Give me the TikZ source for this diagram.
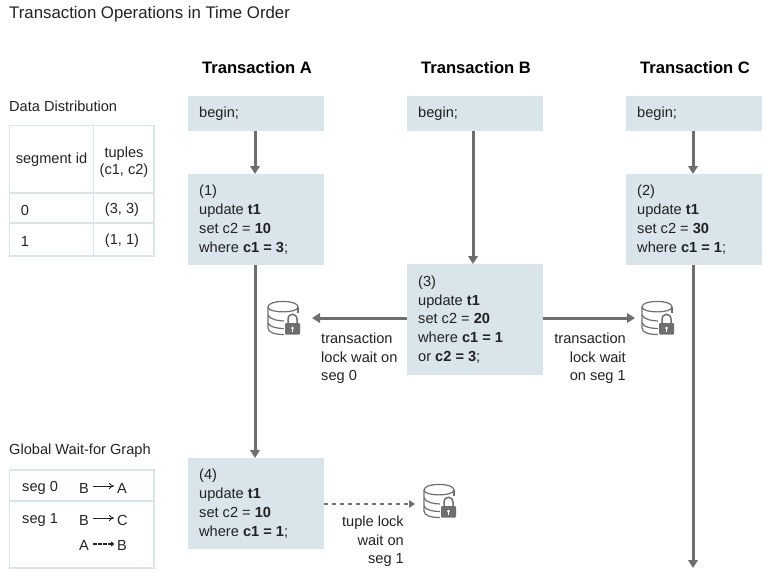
\documentclass[tikz,border=0pt]{standalone}
\usepackage{fontspec}
\setmainfont{Liberation Sans}
\usetikzlibrary{arrows.meta}
\definecolor{boxblue}{HTML}{D9E4EB}
\definecolor{tblline}{HTML}{D9E4EB}
\definecolor{flow}{HTML}{6E6E6E}
\definecolor{ink}{HTML}{222222}
\tikzset{
  x=1pt,y=-1pt,
  txt/.style={font=\fontsize{14.6}{18.8}\selectfont,text=ink,inner sep=0pt},
  lbl/.style={txt,anchor=west,align=left},
  head/.style={txt,font=\fontsize{16.6}{19}\selectfont\bfseries,text=black},
  flowarrow/.style={draw=flow,line width=3pt,-{Triangle[length=8pt,width=9.5pt]}},
  tbl/.style={draw=tblline,line width=1.6pt},
  miniarrow/.style={draw=ink,line width=0.8pt,-{To[length=5pt,width=6pt]}},
  pics/dblock/.style={code={
    \begin{scope}[line width=1.2pt,draw=flow]
      \draw (-16,-11) .. controls (-16,-18.5) and (14,-18.5) .. (14,-11)
            .. controls (14,-4.5) and (-16,-4.5) .. (-16,-11);
      \draw (-16,-11) -- (-16,10) .. controls (-16,15) and (-8,16.5) .. (0,16.5);
      \draw (14,-11) -- (14,-3);
      \draw (-16,-3) .. controls (-14,2) and (-4,3) .. (1,3);
      \draw (-16,5) .. controls (-14,9.5) and (-6,10.5) .. (0,10.5);
    \end{scope}
    \fill[white] (0,-5) rectangle (18,18);
    \draw[flow,line width=1.5pt] (4,6) -- (4,1.5) .. controls (4,-5.5) and (13,-5.5) .. (13,1.5) -- (13,6);
    \fill[flow,rounded corners=1pt] (1,5) rectangle (16,16.5);
    \fill[white] (8.5,10) circle (1.5);
    \fill[white] (7.9,10) rectangle (9.1,13.5);
  }}
}
\begin{document}
\begin{tikzpicture}
\useasboundingbox (0,0) rectangle (767,571);
\node[txt,font=\fontsize{16.8}{20}\selectfont,anchor=west] (title) at (9,14) {Transaction Operations in Time Order};
\node[head] (ha) at (257,68) {Transaction A};
\node[head] (hb) at (476,68) {Transaction B};
\node[head] (hc) at (695,68) {Transaction C};

% boxes
\path[fill=boxblue] (188,96) rectangle (324,131);
\path[fill=boxblue] (407,96) rectangle (543,131);
\path[fill=boxblue] (626,96) rectangle (762,131);
\path[fill=boxblue] (188,174) rectangle (324,265);
\path[fill=boxblue] (626,174) rectangle (762,265);
\path[fill=boxblue] (407,264) rectangle (543,375);
\path[fill=boxblue] (188,458) rectangle (324,549);
\node[lbl] (ta) at (199,114) {begin;};
\node[lbl] (tb) at (418,114) {begin;};
\node[lbl] (tc) at (637,114) {begin;};
\node[lbl] (o1) at (199,219.5) {(1)\\update \textbf{t1}\\set c2 = \textbf{10}\\where \textbf{c1 = 3};};
\node[lbl] (o2) at (637,219.5) {(2)\\update \textbf{t1}\\set c2 = \textbf{30}\\where \textbf{c1 = 1};};
\node[lbl] (o3) at (418,319.5) {(3)\\update \textbf{t1}\\set c2 = \textbf{20}\\where \textbf{c1 = 1}\\or \textbf{c2 = 3};};
\node[lbl] (o4) at (199,503.5) {(4)\\update \textbf{t1}\\set c2 = \textbf{10}\\where \textbf{c1 = 1};};

% anchors of connectors
\coordinate (a0) at (255,131); \coordinate (a1) at (255,174);
\coordinate (a2) at (255,265); \coordinate (a3) at (255,458);
\coordinate (b0) at (473,131); \coordinate (b1) at (473,264);
\coordinate (c0) at (693,131); \coordinate (c1) at (693,174);
\coordinate (c2) at (693,265); \coordinate (c3) at (693,568);
\coordinate (l0) at (407,318); \coordinate (l1) at (312,318);
\coordinate (r0) at (543,318); \coordinate (r1) at (635,318);
\coordinate (d0) at (324,504); \coordinate (d1) at (415,504);
\draw[flowarrow] (a0) -- (a1);
\draw[flowarrow] (a2) -- (a3);
\draw[flowarrow] (b0) -- (b1);
\draw[flowarrow] (c0) -- (c1);
\draw[flowarrow] (c2) -- (c3);
\draw[flowarrow] (l0) -- (l1);
\draw[flowarrow] (r0) -- (r1);
\draw[draw=flow,line width=1.6pt,dash pattern=on 4pt off 4pt,-{Triangle[length=6pt,width=7.5pt]}] (d0) -- (d1);

% lock labels
\node[lbl,anchor=north west] (w0) at (321,332.5) {transaction\\lock wait on\\seg 0};
\node[txt,anchor=north east,align=right] (w1) at (626,332.5) {transaction\\lock wait\\on seg 1};
\node[txt,anchor=north east,align=right] (w2) at (404,515.5) {tuple lock\\wait on\\seg 1};

\pic at (284,318) {dblock};
\pic at (658,318) {dblock};
\pic at (440,501) {dblock};

% data distribution
\node[lbl] (dd) at (9,106.5) {Data Distribution};
\draw[tbl] (9.5,125.5) rectangle (154,256);
\draw[tbl] (93.5,125.5) -- (93.5,256);
\draw[tbl] (9.5,193) -- (154,193);
\draw[tbl] (9.5,223) -- (154,223);
\node[txt] (h1) at (51.5,160) {segment id};
\node[txt,align=center,font=\fontsize{14.6}{17.5}\selectfont] (h2) at (124,162) {tuples\\(c1, c2)};
\node[txt] (r00) at (25,210) {0};
\node[txt] (r01) at (122,210) {(3, 3)};
\node[txt] (r10) at (25,241) {1};
\node[txt] (r11) at (122,241) {(1, 1)};

% wait-for graph
\node[lbl] (gw) at (9,451) {Global Wait-for Graph};
\draw[tbl] (9.5,470) rectangle (154,568);
\draw[tbl] (9.5,501) -- (154,501);
\node[txt,anchor=west] (s0) at (22,488) {seg 0};
\node[txt,anchor=west] (s1) at (22,520) {seg 1};
\node[txt,anchor=west] (g1) at (79,488) {B};
\node[txt,anchor=west] (g2) at (117,488) {A};
\node[txt,anchor=west] (g3) at (79,520) {B};
\node[txt,anchor=west] (g4) at (117,520) {C};
\node[txt,anchor=west] (g5) at (79,545) {A};
\node[txt,anchor=west] (g6) at (117,545) {B};
\draw[miniarrow] (93,486) -- (114,486);
\draw[miniarrow] (93,518) -- (114,518);
\draw[draw=ink,line width=1.2pt,dash pattern=on 3.5pt off 1.5pt,-{To[length=3pt,width=4.5pt]}] (93,544) -- (114,544);
\end{tikzpicture}
\end{document}
